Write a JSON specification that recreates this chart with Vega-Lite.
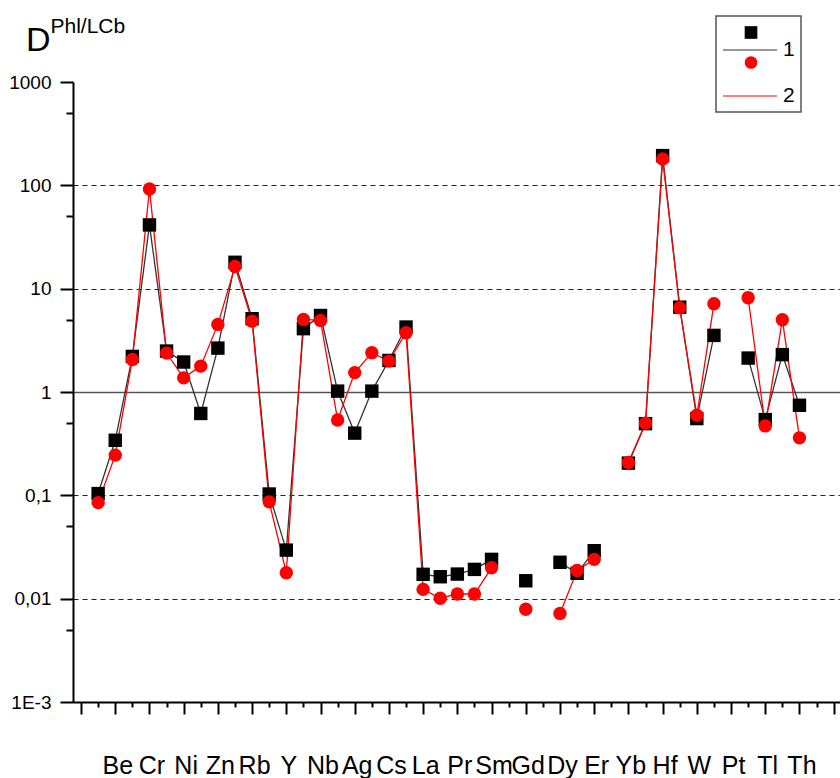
{
  "$schema": "https://vega.github.io/schema/vega-lite/v6.json",
  "autosize": {"type": "none"},
  "padding": {"left": 73, "top": 82, "right": 0, "bottom": 76},
  "width": 767,
  "height": 620,
  "background": "white",
  "title": {
    "text": "D",
    "anchor": "start",
    "frame": "group",
    "fontSize": 34,
    "font": "Liberation Sans",
    "fontWeight": "normal",
    "color": "black",
    "baseline": "alphabetic",
    "offset": 0,
    "dx": -47,
    "dy": 70
  },
  "config": {
    "view": {"stroke": null},
    "font": "Liberation Sans",
    "legend": {"title": null, "labelFont": "Liberation Sans", "labelColor": "black"}
  },
  "data": {
    "values": [
      {"e": 1, "s": "1", "v": 0.104}, {"e": 2, "s": "1", "v": 0.341}, {"e": 3, "s": "1", "v": 2.21},
      {"e": 4, "s": "1", "v": 41.4}, {"e": 5, "s": "1", "v": 2.49}, {"e": 6, "s": "1", "v": 1.95},
      {"e": 7, "s": "1", "v": 0.62}, {"e": 8, "s": "1", "v": 2.66}, {"e": 9, "s": "1", "v": 18.0},
      {"e": 10, "s": "1", "v": 5.12}, {"e": 11, "s": "1", "v": 0.103}, {"e": 12, "s": "1", "v": 0.0295},
      {"e": 13, "s": "1", "v": 4.1}, {"e": 14, "s": "1", "v": 5.5}, {"e": 15, "s": "1", "v": 1.02},
      {"e": 16, "s": "1", "v": 0.40}, {"e": 17, "s": "1", "v": 1.02}, {"e": 18, "s": "1", "v": 2.02},
      {"e": 19, "s": "1", "v": 4.25}, {"e": 20, "s": "1", "v": 0.0172}, {"e": 21, "s": "1", "v": 0.0163},
      {"e": 22, "s": "1", "v": 0.0173}, {"e": 23, "s": "1", "v": 0.0192}, {"e": 24, "s": "1", "v": 0.024},
      {"e": 25, "s": "1", "v": null}, {"e": 26, "s": "1", "v": 0.0149}, {"e": 27, "s": "1", "v": null},
      {"e": 28, "s": "1", "v": 0.0225}, {"e": 29, "s": "1", "v": 0.0176}, {"e": 30, "s": "1", "v": 0.0291},
      {"e": 31, "s": "1", "v": null}, {"e": 32, "s": "1", "v": 0.205}, {"e": 33, "s": "1", "v": 0.494},
      {"e": 34, "s": "1", "v": 194}, {"e": 35, "s": "1", "v": 6.62}, {"e": 36, "s": "1", "v": 0.553},
      {"e": 37, "s": "1", "v": 3.53}, {"e": 38, "s": "1", "v": null}, {"e": 39, "s": "1", "v": 2.13},
      {"e": 40, "s": "1", "v": 0.541}, {"e": 41, "s": "1", "v": 2.30}, {"e": 42, "s": "1", "v": 0.744},
      {"e": 1, "s": "2", "v": 0.085}, {"e": 2, "s": "2", "v": 0.245}, {"e": 3, "s": "2", "v": 2.06},
      {"e": 4, "s": "2", "v": 92.3}, {"e": 5, "s": "2", "v": 2.38}, {"e": 6, "s": "2", "v": 1.37},
      {"e": 7, "s": "2", "v": 1.78}, {"e": 8, "s": "2", "v": 4.51}, {"e": 9, "s": "2", "v": 16.4},
      {"e": 10, "s": "2", "v": 4.85}, {"e": 11, "s": "2", "v": 0.0865}, {"e": 12, "s": "2", "v": 0.0178},
      {"e": 13, "s": "2", "v": 5.04}, {"e": 14, "s": "2", "v": 4.93}, {"e": 15, "s": "2", "v": 0.535},
      {"e": 16, "s": "2", "v": 1.54}, {"e": 17, "s": "2", "v": 2.40}, {"e": 18, "s": "2", "v": 1.99},
      {"e": 19, "s": "2", "v": 3.75}, {"e": 20, "s": "2", "v": 0.0123}, {"e": 21, "s": "2", "v": 0.0101},
      {"e": 22, "s": "2", "v": 0.0111}, {"e": 23, "s": "2", "v": 0.0111}, {"e": 24, "s": "2", "v": 0.0199},
      {"e": 25, "s": "2", "v": null}, {"e": 26, "s": "2", "v": 0.0079}, {"e": 27, "s": "2", "v": null},
      {"e": 28, "s": "2", "v": 0.0072}, {"e": 29, "s": "2", "v": 0.0187}, {"e": 30, "s": "2", "v": 0.024},
      {"e": 31, "s": "2", "v": null}, {"e": 32, "s": "2", "v": 0.208}, {"e": 33, "s": "2", "v": 0.50},
      {"e": 34, "s": "2", "v": 180}, {"e": 35, "s": "2", "v": 6.53}, {"e": 36, "s": "2", "v": 0.596},
      {"e": 37, "s": "2", "v": 7.14}, {"e": 38, "s": "2", "v": null}, {"e": 39, "s": "2", "v": 8.17},
      {"e": 40, "s": "2", "v": 0.47}, {"e": 41, "s": "2", "v": 5.01}, {"e": 42, "s": "2", "v": 0.36}
    ]
  },
  "encoding": {
    "x": {
      "field": "e",
      "type": "quantitative",
      "scale": {"domain": [-0.47, 44.37], "nice": false, "zero": false},
      "axis": {
        "title": null,
        "grid": false,
        "values": [0,1,2,3,4,5,6,7,8,9,10,11,12,13,14,15,16,17,18,19,20,21,22,23,24,25,26,27,28,29,30,31,32,33,34,35,36,37,38,39,40,41,42,43,44],
        "labelExpr": "['','','Be','','Cr','','Ni','','Zn','','Rb','','Y','','Nb','','Ag','','Cs','','La','','Pr','','Sm','','Gd','','Dy','','Er','','Yb','','Hf','','W','','Pt','','Tl','','Th','',''][datum.value]",
        "tickSize": {"condition": {"test": "datum.value % 2 === 0", "value": 12}, "value": 5},
        "tickWidth": 2,
        "tickColor": "black",
        "domainColor": "black",
        "domainWidth": 2,
        "labelFontSize": 25,
        "labelFont": "Liberation Sans",
        "labelColor": "black",
        "labelPadding": 39,
        "labelOffset": 2,
        "labelBaseline": "top",
        "labelOverlap": false,
        "labelFlush": false,
        "labelBound": false
      }
    },
    "y": {
      "field": "v",
      "type": "quantitative",
      "scale": {"type": "log", "domain": [0.001, 1000], "nice": false},
      "axis": {
        "values": [0.001, 0.005, 0.01, 0.05, 0.1, 0.5, 1, 5, 10, 50, 100, 500, 1000],
        "labelExpr": "datum.value == 1000 ? '1000' : datum.value == 100 ? '100' : datum.value == 10 ? '10' : datum.value == 1 ? '1' : datum.value == 0.1 ? '0,1' : datum.value == 0.01 ? '0,01' : datum.value == 0.001 ? '1E-3' : ''",
        "tickSize": {"condition": {"test": "abs(log(datum.value)/LN10 - round(log(datum.value)/LN10)) > 0.1", "value": 7}, "value": 13},
        "tickWidth": 2,
        "tickColor": "black",
        "domainColor": "black",
        "domainWidth": 2,
        "labelFontSize": 19,
        "labelFont": "Liberation Sans",
        "labelColor": "black",
        "labelPadding": 9,
        "labelOverlap": false,
        "labelFlush": false,
        "labelBound": false,
        "grid": true,
        "gridOpacity": {"condition": {"test": "abs(log(datum.value)/LN10 - round(log(datum.value)/LN10)) > 0.1 || datum.value > 500 || datum.value < 0.002", "value": 0}, "value": 1},
        "gridDash": {"condition": {"test": "datum.value == 1", "value": []}, "value": [5, 4]},
        "gridColor": {"condition": {"test": "datum.value == 1", "value": "#555555"}, "value": "#222222"},
        "gridWidth": {"condition": {"test": "datum.value == 1", "value": 1.5}, "value": 1.2},
        "title": "Phl/LCb",
        "titleAngle": 0,
        "titleX": -23,
        "titleY": -50,
        "titleAlign": "left",
        "titleBaseline": "alphabetic",
        "titleFontSize": 21,
        "titleFont": "Liberation Sans",
        "titleFontWeight": "normal",
        "titleColor": "black"
      }
    }
  },
  "layer": [
    {
      "mark": {"type": "line", "strokeWidth": 1.3, "invalid": "break-paths-filter-domains"},
      "encoding": {
        "stroke": {
          "field": "s",
          "type": "nominal",
          "scale": {"domain": ["1", "2"], "range": ["#333333", "#ff0000"]},
          "legend": {
            "orient": "none",
            "legendX": 643,
            "legendY": -66,
            "symbolType": "stroke",
            "symbolSize": 2916,
            "symbolStrokeWidth": 1.2,
            "padding": 6,
            "rowPadding": 8,
            "labelOffset": 5,
            "labelFontSize": 21,
            "strokeColor": "#555555",
            "fillColor": "white",
            "zindex": 1,
            "encode": {"legend": {"update": {"strokeWidth": {"value": 1.5}}}}
          }
        }
      }
    },
    {
      "mark": {"type": "point", "filled": true, "opacity": 1, "size": 180},
      "encoding": {
        "shape": {
          "field": "s",
          "type": "nominal",
          "scale": {"range": ["square", "circle"]},
          "legend": {
            "orient": "none",
            "legendX": 661.5,
            "legendY": -66,
            "symbolSize": 160,
            "symbolStrokeWidth": 0,
            "padding": 6,
            "rowPadding": 8,
            "labelFontSize": 21,
            "labelOpacity": 0,
            "strokeColor": "transparent",
            "fillColor": "transparent",
            "zindex": 2
          }
        },
        "color": {
          "field": "s",
          "type": "nominal",
          "scale": {"range": ["#000000", "#ff0000"]},
          "legend": {
            "orient": "none",
            "legendX": 661.5,
            "legendY": -66,
            "symbolSize": 160,
            "symbolStrokeWidth": 0,
            "padding": 6,
            "rowPadding": 8,
            "labelFontSize": 21,
            "labelOpacity": 0,
            "strokeColor": "transparent",
            "fillColor": "transparent",
            "zindex": 2
          }
        }
      }
    }
  ]
}
